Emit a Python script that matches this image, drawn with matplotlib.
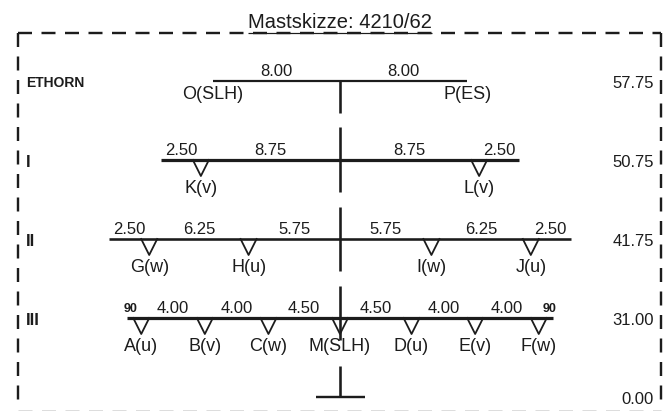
import matplotlib
matplotlib.use("Agg")
import matplotlib.pyplot as plt

# arm lengths from the mast outwards, metres
arm_top = [8.00]
arm_1 = [8.75, 2.50]
arm_2 = [5.75, 6.25, 2.50]
arm_3 = [4.50, 4.00, 4.00, 0.90]

labels_top = ["O(SLH)", "P(ES)"]
labels_1 = ["K(v)", "L(v)"]
labels_2 = ["G(w)", "H(u)", "I(w)", "J(u)"]
labels_3 = ["A(u)", "B(v)", "C(w)", "M(SLH)", "D(u)", "E(v)", "F(w)"]

row_names = ["ETHORN", "I", "II", "III"]
heights = ["57.75", "50.75", "41.75", "31.00", "0.00"]
title = "Mastskizze: 4210/62"

PX_PER_M = 15.9
PX_PER_LEVEL = 79
INK = "#1c1c1c"
plt.rcParams["font.family"] = ["Liberation Sans", "DejaVu Sans"]

fig = plt.figure(figsize=(6.72, 4.11), dpi=100)
ax = fig.add_axes([0, 0, 1, 1])
ax.set_xlim(-340 / PX_PER_M, 332 / PX_PER_M)
ax.set_ylim((397 - 411) / PX_PER_LEVEL, 397 / PX_PER_LEVEL)
ax.axis("off")


def px(x, y):
    # picture pixel -> metres / level
    return (x - 340) / PX_PER_M, (397 - y) / PX_PER_LEVEL


def seg(x0, y0, x1, y1, lw=2.5, color=INK, **kw):
    a, b = px(x0, y0), px(x1, y1)
    ax.plot([a[0], b[0]], [a[1], b[1]], color=color, lw=lw * 0.72,
            solid_capstyle="butt", **kw)


def put(x, level, s, dx=0, dy=0, size=12, ha="center", **kw):
    ax.annotate(s, (x, level), xytext=(dx * 0.72, -dy * 0.72),
                textcoords="offset points", ha=ha, va="center",
                fontsize=size, color=INK, **kw)


def triangle(x, level):
    x0 = x * PX_PER_M + 340
    y0 = 397 - level * PX_PER_LEVEL
    xs = [x0 - 8, x0, x0 + 8]
    ys = [y0, y0 + 16, y0]
    pts = [px(a, b) for a, b in zip(xs, ys)]
    ax.plot([p[0] for p in pts], [p[1] for p in pts], color=INK, lw=1.3)


def draw_row(arm, level, lw):
    reach = sum(arm)
    ax.plot([-reach, reach], [level, level], color=INK, lw=lw * 0.72,
            solid_capstyle="butt")
    for side in (-1, 1):
        start = 0
        for length in arm:
            mid = side * (start + length / 2)
            if length < 1:
                # short end span, only the squeezed "90" is printed
                put(mid + side * 0.2, level, "90", dy=-9, size=9, weight="bold")
            else:
                put(mid, level, f"{length:.2f}", dy=-10)
            start += length


# frame
for xy, col, lw in [
    ([(18, 33), (661, 33)], INK, 2.4),
    ([(18, 33), (18, 400)], INK, 2.4),
    ([(661, 33), (661, 400)], INK, 2.4),
    ([(18, 410), (661, 410)], "#dddddd", 1.0),
]:
    a, b = px(*xy[0]), px(*xy[1])
    ax.plot([a[0], b[0]], [a[1], b[1]], color=col, lw=lw * 0.72,
            dashes=(14 / lw, 9.5 / lw), dash_capstyle="butt")

# title
put(*px(340, 22), title, size=14.5)
seg(248, 33, 432, 33, lw=1.2)

# mast
for y0, y1 in [(80, 113), (127, 192), (207, 271), (286, 340), (366, 397)]:
    seg(340, y0, 340, y1, lw=2.6)
seg(316, 397, 365, 397, lw=2.4)

# cross arms
draw_row(arm_top, 4, 2.2)
draw_row(arm_1, 3, 3.2)
draw_row(arm_2, 2, 2.6)
draw_row(arm_3, 1, 3.2)

# top row has no insulator triangles, labels sit at the arm tips
put(-arm_top[0], 4, labels_top[0], dy=13, size=13)
put(arm_top[0], 4, labels_top[1], dy=13, size=13)

# insulators
for level, arm, names in [(3, arm_1, labels_1), (2, arm_2, labels_2)]:
    pos = []
    run = 0
    for length in arm[:-1]:
        run += length
        pos.append(run)
    xs = [-p for p in reversed(pos)] + pos
    for x, name in zip(xs, names):
        triangle(x, level)
        put(x, level, name, dy=28, size=13)

pos = []
run = 0
for length in arm_3[:-1]:
    run += length
    pos.append(run)
xs = [-p for p in reversed(pos)] + [0] + pos
for x, name in zip(xs, labels_3):
    triangle(x, 1)
    put(x, 1, name, dy=28, size=13)

# row names, left side
left_edge = (26 - 340) / PX_PER_M
put(left_edge, 4, row_names[0], dy=2, ha="left", size=10, weight="bold")
for name, level in zip(row_names[1:], [3, 2, 1]):
    put(left_edge, level, name, dy=2, ha="left", size=12, weight="bold")

# heights, right side
right_edge = (654 - 340) / PX_PER_M
for h, level in zip(heights, [4, 3, 2, 1, 0]):
    put(right_edge, level, h, dy=2, ha="right", size=12)

fig.savefig("out.png", dpi=100)
